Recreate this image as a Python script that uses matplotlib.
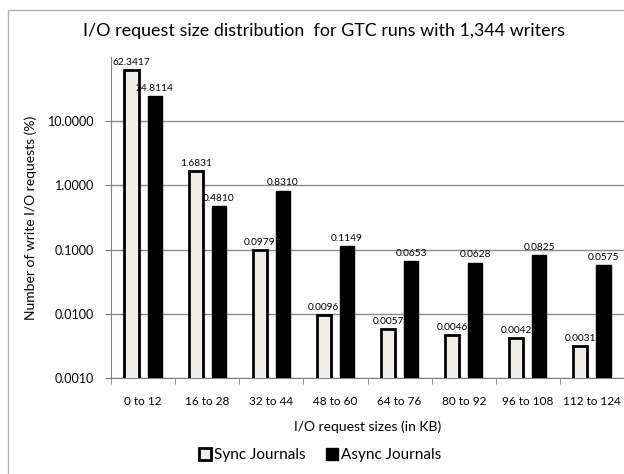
import matplotlib
matplotlib.use("Agg")
import matplotlib.pyplot as plt
import numpy as np
from matplotlib.patches import Rectangle, Patch

plt.rcParams['font.family'] = ['Lato', 'DejaVu Sans']

categories = ["0 to 12", "16 to 28", "32 to 44", "48 to 60", "64 to 76",
              "80 to 92", "96 to 108", "112 to 124"]
sync_vals = [62.3417, 1.6831, 0.0979, 0.0096, 0.0057, 0.0046, 0.0042, 0.0031]
async_vals = [24.8114, 0.4810, 0.8310, 0.1149, 0.0653, 0.0628, 0.0825, 0.0575]
yticks = [0.001, 0.01, 0.1, 1, 10]
ytick_labels = ["0.0010", "0.0100", "0.1000", "1.0000", "10.0000"]

W, H = 624, 474
fig = plt.figure(figsize=(W / 100, H / 100), dpi=100)
ax = fig.add_axes([111 / W, 1 - 378 / H, (624 - 111) / W, (378 - 57) / H])

x = np.arange(len(categories))
bw = 0.22
off = 0.18
ax.bar(x - off, sync_vals, bw, color="#F0EEE6", edgecolor="black", linewidth=2,
       label="Sync Journals", zorder=3)
ax.bar(x + off, async_vals, bw, color="black", edgecolor="black", linewidth=1,
       label="Async Journals", zorder=3)

for xi, v in zip(x - off, sync_vals):
    ax.text(xi, v * 1.12, f"{v:.4f}", ha="center", va="bottom", fontsize=7.3, zorder=4)
for xi, v in zip(x + off, async_vals):
    ax.text(xi, v * 1.12, f"{v:.4f}", ha="center", va="bottom", fontsize=7.3, zorder=4)

ax.set_yscale("log")
ax.set_ylim(0.001, 100)
ax.set_xlim(-0.5, len(categories) - 0.5)
ax.set_yticks(yticks)
ax.set_yticklabels(ytick_labels, fontsize=9)
ax.yaxis.set_minor_locator(matplotlib.ticker.NullLocator())
ax.set_xticks(x)
ax.set_xticklabels(categories, fontsize=8.5)
ax.tick_params(axis="x", length=0, pad=13)
ax.set_xticks(np.arange(len(categories) + 1) - 0.5, minor=True)
ax.tick_params(axis="x", which="minor", length=4, color="#808080")
ax.tick_params(axis="y", length=4, color="#808080", pad=8)
ax.grid(axis="y", color="#8c8c8c", linewidth=1, zorder=0)
for s in ["top", "right"]:
    ax.spines[s].set_visible(False)
for s in ["left", "bottom"]:
    ax.spines[s].set_color("#808080")

ax.set_xlabel("I/O request sizes (in KB)", fontsize=10, labelpad=10)
ax.set_ylabel("Number of write I/O requests (%)", fontsize=10, labelpad=8)
fig.text(324 / W, 1 - 31 / H, "I/O request size distribution  for GTC runs with 1,344 writers",
         ha="center", va="center", fontsize=12.9)

handles = [Patch(facecolor="#F0EEE6", edgecolor="black", linewidth=2),
           Patch(facecolor="black", edgecolor="black")]
fig.legend(handles, ["Sync Journals", "Async Journals"], loc="center",
           bbox_to_anchor=(320 / W, 1 - 455 / H), ncol=2, frameon=False,
           fontsize=11, handlelength=0.8, handleheight=0.8, handletextpad=0.2,
           columnspacing=1.3)

fig.patches.append(Rectangle((8 / W, -0.1), 2, 1.1 - 10 / H, transform=fig.transFigure,
                             fill=False, edgecolor="#b0b0b0", linewidth=1))

fig.savefig("out.png", dpi=100)
